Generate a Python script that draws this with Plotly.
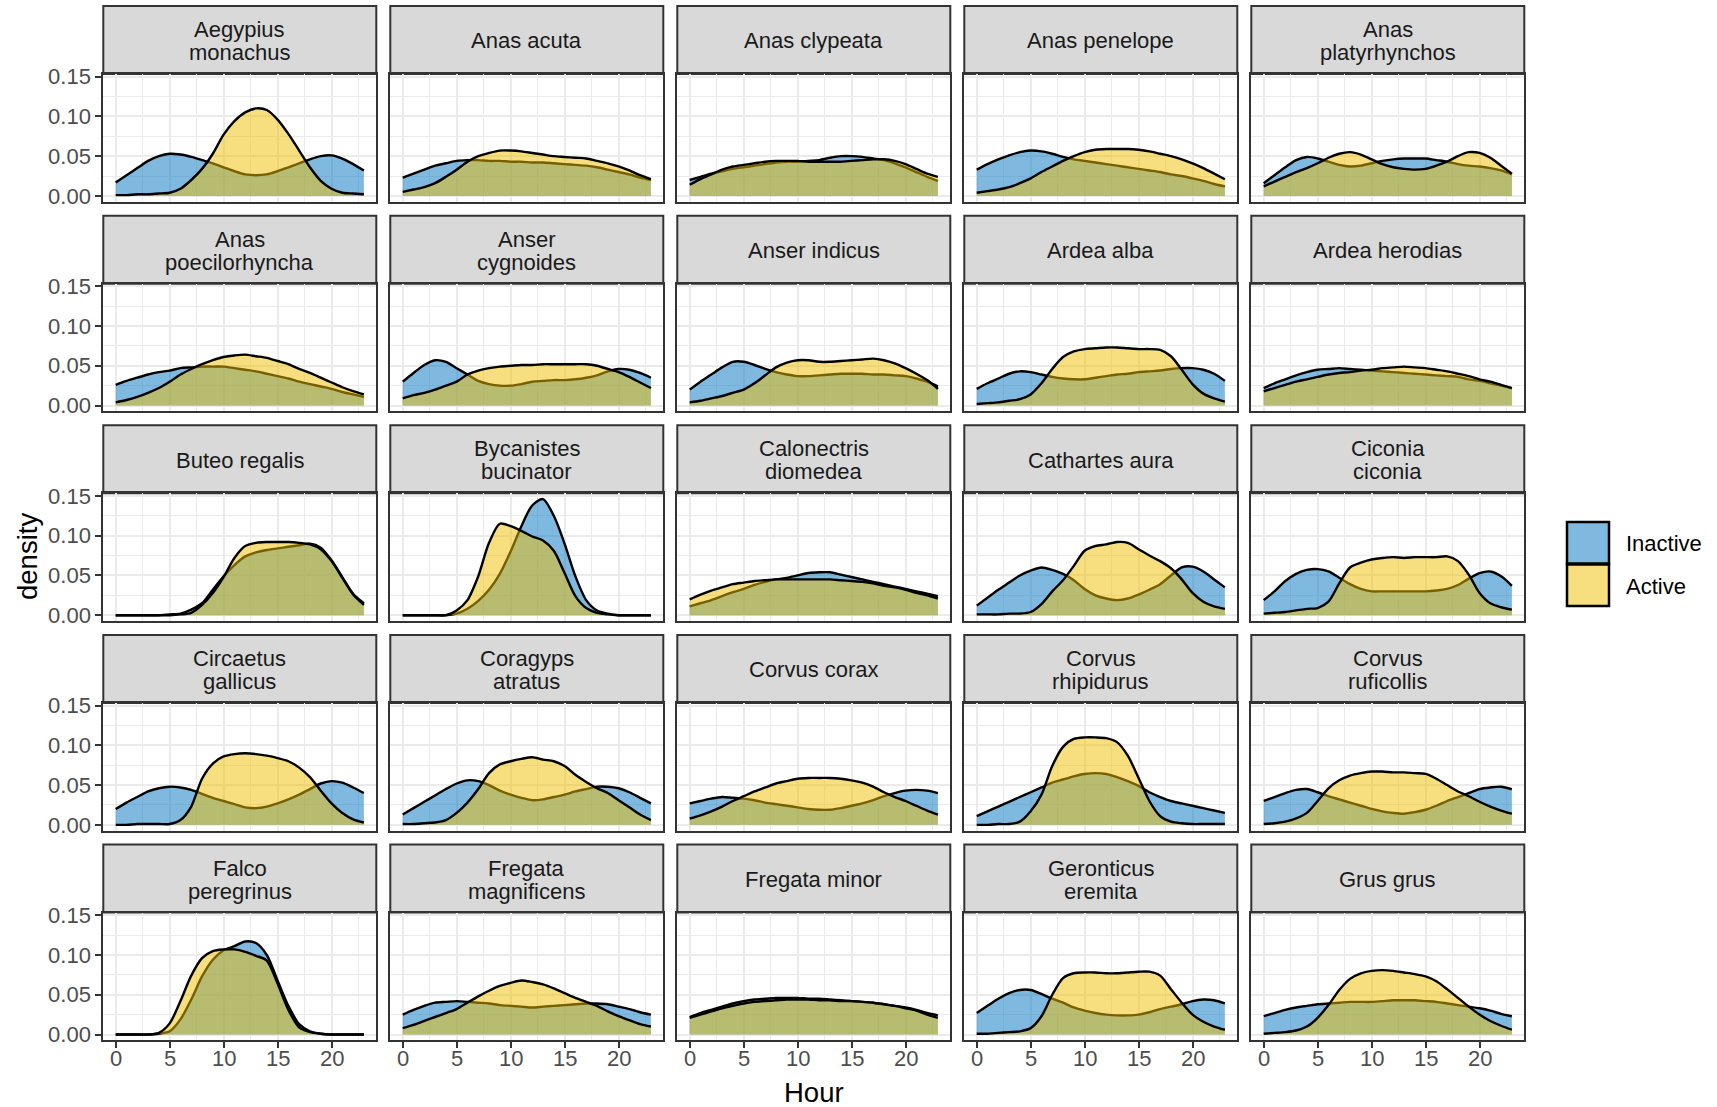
import plotly.graph_objects as go

W, H = 1717, 1107
hours = list(range(24))

strip_labels = [
    "Aegypius\nmonachus", "Anas acuta", "Anas clypeata", "Anas penelope", "Anas\nplatyrhynchos",
    "Anas\npoecilorhyncha", "Anser\ncygnoides", "Anser indicus", "Ardea alba", "Ardea herodias",
    "Buteo regalis", "Bycanistes\nbucinator", "Calonectris\ndiomedea", "Cathartes aura", "Ciconia\nciconia",
    "Circaetus\ngallicus", "Coragyps\natratus", "Corvus corax", "Corvus\nrhipidurus", "Corvus\nruficollis",
    "Falco\nperegrinus", "Fregata\nmagnificens", "Fregata minor", "Geronticus\neremita", "Grus grus",
]
series_names = ["Inactive", "Active"]
y_ticks = [0.00, 0.05, 0.10, 0.15]
x_ticks = [0, 5, 10, 15, 20]

aegypius_monachus_inactive = [.017,.026,.035,.044,.050,.053,.052,.049,.045,.041,.036,.031,.027,.026,.027,.031,.036,.041,.046,.050,.051,.047,.040,.032]
aegypius_monachus_active = [.001,.001,.002,.002,.003,.004,.009,.020,.034,.053,.077,.094,.105,.110,.108,.096,.078,.057,.036,.019,.009,.004,.003,.002]
anas_acuta_inactive = [.023,.028,.033,.038,.041,.044,.045,.045,.044,.044,.043,.043,.042,.042,.041,.040,.039,.038,.036,.033,.030,.027,.023,.020]
anas_acuta_active = [.005,.008,.011,.016,.024,.033,.043,.050,.054,.057,.057,.056,.054,.052,.050,.049,.048,.047,.044,.041,.037,.032,.026,.021]
anas_clypeata_inactive = [.020,.024,.028,.031,.034,.036,.038,.040,.042,.043,.043,.044,.045,.048,.050,.050,.049,.047,.045,.041,.036,.030,.024,.019]
anas_clypeata_active = [.014,.021,.027,.033,.037,.039,.041,.043,.044,.044,.044,.043,.043,.043,.043,.044,.045,.046,.046,.044,.040,.034,.028,.024]
anas_penelope_inactive = [.033,.040,.046,.051,.055,.057,.056,.053,.049,.046,.044,.042,.040,.038,.036,.034,.032,.030,.027,.025,.022,.019,.015,.012]
anas_penelope_active = [.004,.006,.008,.011,.016,.022,.030,.037,.044,.050,.055,.058,.059,.059,.059,.058,.056,.053,.050,.046,.041,.035,.028,.021]
anas_platyrhynchos_inactive = [.016,.026,.036,.045,.049,.047,.043,.039,.037,.038,.041,.044,.046,.047,.047,.047,.045,.043,.040,.038,.037,.035,.032,.027]
anas_platyrhynchos_active = [.012,.018,.024,.030,.035,.041,.048,.053,.055,.052,.046,.040,.036,.034,.033,.034,.038,.043,.050,.055,.054,.048,.038,.028]
anas_poecilorhyncha_inactive = [.026,.031,.035,.039,.042,.044,.047,.048,.049,.049,.049,.047,.045,.043,.040,.037,.034,.030,.027,.024,.021,.017,.014,.011]
anas_poecilorhyncha_active = [.004,.007,.011,.016,.022,.030,.039,.046,.052,.057,.061,.063,.064,.062,.060,.056,.052,.046,.041,.035,.029,.023,.018,.014]
anser_cygnoides_inactive = [.030,.041,.051,.057,.055,.047,.039,.031,.027,.025,.025,.027,.030,.031,.032,.032,.033,.035,.038,.043,.046,.045,.041,.035]
anser_cygnoides_active = [.009,.013,.016,.020,.025,.030,.039,.044,.047,.049,.050,.051,.051,.052,.052,.052,.052,.052,.050,.046,.042,.036,.029,.022]
anser_indicus_inactive = [.020,.030,.039,.048,.055,.055,.051,.046,.042,.039,.037,.037,.038,.039,.040,.040,.040,.039,.039,.038,.037,.034,.030,.024]
anser_indicus_active = [.004,.006,.009,.012,.016,.020,.028,.038,.048,.054,.057,.057,.055,.055,.056,.057,.058,.059,.057,.053,.047,.040,.032,.021]
ardea_alba_inactive = [.021,.028,.034,.040,.043,.042,.039,.036,.034,.033,.033,.035,.037,.039,.040,.042,.043,.044,.046,.047,.047,.045,.040,.031]
ardea_alba_active = [.002,.003,.004,.006,.008,.014,.028,.046,.061,.068,.071,.072,.073,.073,.072,.071,.071,.070,.062,.045,.027,.015,.009,.005]
ardea_herodias_inactive = [.022,.028,.033,.038,.042,.045,.046,.047,.046,.045,.044,.043,.042,.041,.040,.039,.038,.037,.036,.033,.031,.028,.025,.022]
ardea_herodias_active = [.018,.022,.026,.030,.033,.036,.039,.041,.042,.044,.045,.047,.048,.049,.048,.047,.045,.043,.040,.037,.033,.030,.026,.022]
buteo_regalis_inactive = [.000,.000,.000,.000,.000,.001,.002,.007,.015,.032,.049,.063,.074,.079,.082,.084,.086,.088,.090,.085,.069,.048,.027,.015]
buteo_regalis_active = [.000,.000,.000,.000,.000,.000,.001,.003,.013,.028,.048,.072,.087,.091,.092,.092,.092,.091,.089,.083,.068,.047,.026,.013]
bycanistes_bucinator_inactive = [.000,.000,.000,.000,.000,.002,.008,.018,.032,.052,.080,.112,.138,.146,.125,.090,.049,.019,.006,.002,.000,.000,.000,.000]
bycanistes_bucinator_active = [.000,.000,.000,.000,.000,.006,.019,.049,.091,.115,.112,.106,.099,.094,.081,.053,.024,.009,.003,.001,.000,.000,.000,.000]
calonectris_diomedea_inactive = [.011,.015,.019,.024,.029,.033,.038,.042,.045,.047,.050,.053,.054,.054,.051,.048,.045,.042,.039,.036,.033,.030,.027,.024]
calonectris_diomedea_active = [.020,.026,.031,.035,.039,.041,.043,.044,.045,.045,.045,.045,.045,.045,.044,.043,.042,.040,.037,.035,.032,.028,.025,.021]
cathartes_aura_inactive = [.012,.022,.032,.041,.050,.056,.060,.057,.052,.044,.033,.025,.021,.019,.021,.026,.032,.039,.050,.060,.061,.055,.045,.035]
cathartes_aura_active = [.001,.001,.001,.002,.002,.004,.014,.030,.044,.062,.081,.087,.089,.092,.091,.083,.075,.068,.059,.045,.028,.017,.011,.008]
ciconia_ciconia_inactive = [.019,.030,.043,.052,.057,.058,.055,.047,.039,.033,.030,.030,.030,.030,.030,.030,.031,.033,.038,.046,.053,.055,.049,.037]
ciconia_ciconia_active = [.002,.003,.004,.006,.008,.009,.017,.040,.060,.066,.070,.072,.073,.072,.073,.073,.073,.074,.068,.051,.028,.015,.010,.007]
circaetus_gallicus_inactive = [.020,.028,.035,.042,.046,.048,.047,.044,.039,.034,.030,.026,.022,.021,.023,.027,.032,.038,.045,.052,.055,.053,.047,.040]
circaetus_gallicus_active = [.000,.000,.001,.001,.001,.001,.006,.023,.058,.077,.086,.089,.090,.089,.087,.084,.080,.072,.060,.043,.027,.015,.007,.003]
coragyps_atratus_inactive = [.013,.021,.029,.037,.045,.052,.056,.055,.050,.043,.038,.034,.031,.032,.035,.038,.042,.045,.048,.048,.046,.041,.034,.027]
coragyps_atratus_active = [.001,.001,.002,.003,.006,.015,.028,.045,.065,.076,.080,.083,.085,.082,.080,.074,.063,.054,.046,.040,.031,.022,.013,.006]
corvus_corax_inactive = [.027,.030,.033,.035,.034,.033,.031,.028,.026,.024,.022,.020,.019,.019,.021,.024,.027,.031,.036,.040,.043,.044,.043,.040]
corvus_corax_active = [.008,.012,.017,.023,.030,.036,.042,.047,.052,.055,.058,.059,.059,.059,.058,.056,.053,.048,.041,.035,.030,.024,.018,.013]
corvus_rhipidurus_inactive = [.011,.017,.023,.029,.035,.041,.047,.053,.057,.061,.064,.065,.064,.060,.055,.049,.041,.035,.030,.027,.024,.021,.018,.015]
corvus_rhipidurus_active = [.000,.000,.001,.001,.004,.017,.038,.074,.098,.108,.110,.110,.109,.104,.087,.059,.030,.011,.004,.002,.001,.001,.001,.001]
corvus_ruficollis_inactive = [.030,.035,.040,.044,.045,.041,.036,.032,.028,.024,.020,.017,.015,.014,.016,.019,.024,.030,.035,.040,.045,.047,.048,.045]
corvus_ruficollis_active = [.001,.002,.004,.008,.015,.030,.046,.056,.062,.065,.067,.067,.066,.066,.065,.064,.058,.050,.042,.036,.029,.023,.018,.014]
falco_peregrinus_inactive = [.000,.000,.000,.000,.001,.004,.019,.044,.073,.094,.106,.111,.117,.115,.100,.068,.036,.013,.004,.001,.000,.000,.000,.000]
falco_peregrinus_active = [.000,.000,.000,.000,.002,.014,.042,.074,.096,.105,.107,.107,.104,.099,.093,.064,.031,.009,.003,.001,.000,.000,.000,.000]
fregata_magnificens_inactive = [.025,.031,.036,.040,.041,.042,.041,.040,.039,.037,.036,.035,.034,.035,.036,.037,.038,.039,.039,.038,.035,.032,.028,.025]
fregata_magnificens_active = [.008,.012,.017,.022,.027,.032,.040,.048,.055,.061,.065,.068,.066,.063,.058,.052,.046,.041,.036,.029,.023,.018,.013,.010]
fregata_minor_inactive = [.022,.027,.031,.035,.039,.042,.044,.045,.046,.046,.046,.045,.045,.044,.043,.042,.041,.040,.038,.036,.034,.031,.027,.024]
fregata_minor_active = [.021,.025,.029,.033,.036,.039,.041,.042,.043,.044,.044,.044,.043,.043,.042,.042,.041,.040,.038,.036,.033,.030,.025,.021]
geronticus_eremita_inactive = [.027,.036,.045,.052,.056,.056,.051,.045,.040,.034,.030,.027,.025,.024,.024,.025,.028,.032,.035,.038,.042,.044,.043,.039]
geronticus_eremita_active = [.001,.001,.002,.003,.004,.008,.023,.050,.071,.077,.078,.078,.077,.077,.078,.079,.079,.074,.057,.040,.025,.016,.010,.006]
grus_grus_inactive = [.023,.027,.031,.034,.036,.038,.039,.040,.041,.041,.041,.042,.043,.043,.043,.042,.041,.039,.037,.035,.033,.030,.026,.023]
grus_grus_active = [.001,.002,.003,.005,.010,.021,.037,.056,.070,.077,.080,.081,.080,.078,.076,.073,.067,.057,.046,.035,.025,.017,.011,.006]

inactive_series = [
    aegypius_monachus_inactive, anas_acuta_inactive, anas_clypeata_inactive, anas_penelope_inactive, anas_platyrhynchos_inactive,
    anas_poecilorhyncha_inactive, anser_cygnoides_inactive, anser_indicus_inactive, ardea_alba_inactive, ardea_herodias_inactive,
    buteo_regalis_inactive, bycanistes_bucinator_inactive, calonectris_diomedea_inactive, cathartes_aura_inactive, ciconia_ciconia_inactive,
    circaetus_gallicus_inactive, coragyps_atratus_inactive, corvus_corax_inactive, corvus_rhipidurus_inactive, corvus_ruficollis_inactive,
    falco_peregrinus_inactive, fregata_magnificens_inactive, fregata_minor_inactive, geronticus_eremita_inactive, grus_grus_inactive,
]
active_series = [
    aegypius_monachus_active, anas_acuta_active, anas_clypeata_active, anas_penelope_active, anas_platyrhynchos_active,
    anas_poecilorhyncha_active, anser_cygnoides_active, anser_indicus_active, ardea_alba_active, ardea_herodias_active,
    buteo_regalis_active, bycanistes_bucinator_active, calonectris_diomedea_active, cathartes_aura_active, ciconia_ciconia_active,
    circaetus_gallicus_active, coragyps_atratus_active, corvus_corax_active, corvus_rhipidurus_active, corvus_ruficollis_active,
    falco_peregrinus_active, fregata_magnificens_active, fregata_minor_active, geronticus_eremita_active, grus_grus_active,
]

FONT = "Liberation Sans, Arial, Helvetica, sans-serif"
FILL_IN = "rgba(0,115,194,0.5)"
FILL_AC = "rgba(239,192,0,0.5)"

def fx(x):
    return x / W

def fy(y):
    return 1 - y / H

COL_LEFT0, COL_STEP, PW = 103.3, 287.0, 273.0
STRIP_TOP0, PANEL_TOP0, PANEL_BOT0, ROW_STEP = 6.0, 74.0, 201.7, 209.65

fig = go.Figure()
layout = {}
shapes = []
annotations = []

for k in range(25):
    r, c = divmod(k, 5)
    s = "" if k == 0 else str(k + 1)
    left = COL_LEFT0 + COL_STEP * c
    right = left + PW
    stop = STRIP_TOP0 + ROW_STEP * r
    ptop = PANEL_TOP0 + ROW_STEP * r
    pbot = PANEL_BOT0 + ROW_STEP * r

    fig.add_trace(go.Scatter(
        x=hours, y=inactive_series[k], xaxis="x" + s, yaxis="y" + s,
        mode="lines", fill="tozeroy", fillcolor=FILL_IN,
        line=dict(color="black", width=2.4, shape="spline", smoothing=0.8),
        name=series_names[0], showlegend=False, hoverinfo="skip"))
    fig.add_trace(go.Scatter(
        x=hours, y=active_series[k], xaxis="x" + s, yaxis="y" + s,
        mode="lines", fill="tozeroy", fillcolor=FILL_AC,
        line=dict(color="black", width=2.4, shape="spline", smoothing=0.8),
        name=series_names[1], showlegend=False, hoverinfo="skip"))

    bottom_row = r == 4
    left_col = c == 0
    layout["xaxis" + s] = dict(
        domain=[fx(left), fx(right)], anchor="y" + s, range=[-1.15, 24.15],
        tickvals=x_ticks, showticklabels=False, automargin=False,
        ticks="outside" if bottom_row else "", ticklen=6, tickwidth=1.8, tickcolor="#333333",
        showgrid=True, gridcolor="#EBEBEB", gridwidth=2,
        minor=dict(tickvals=[2.5, 7.5, 12.5, 17.5, 22.5], showgrid=True, gridcolor="#EBEBEB", gridwidth=1.1, ticks=""),
        zeroline=False, showline=True, mirror=True, linecolor="#333333", linewidth=2,
        fixedrange=True)
    layout["yaxis" + s] = dict(
        domain=[fy(pbot), fy(ptop)], anchor="x" + s, range=[-0.0073, 0.1533],
        tickvals=y_ticks, ticktext=["%.2f" % v for v in y_ticks], showticklabels=left_col,
        automargin=False,
        ticks="outside" if left_col else "", ticklen=6, tickwidth=1.8, tickcolor="#333333",
        tickfont=dict(family=FONT, size=22, color="#4D4D4D"),
        showgrid=True, gridcolor="#EBEBEB", gridwidth=2,
        minor=dict(tickvals=[0.025, 0.075, 0.125], showgrid=True, gridcolor="#EBEBEB", gridwidth=1.1, ticks=""),
        zeroline=False, showline=True, mirror=True, linecolor="#333333", linewidth=2,
        fixedrange=True)

    if bottom_row:
        for t in x_ticks:
            annotations.append(dict(text=str(t), xref="x" + s, yref="paper", x=t, y=fy(pbot + 18.5),
                                    xanchor="center", yanchor="middle", showarrow=False,
                                    font=dict(family=FONT, size=22, color="#4D4D4D")))

    shapes.append(dict(type="rect", xref="paper", yref="paper",
                       x0=fx(left), x1=fx(right), y0=fy(ptop), y1=fy(stop),
                       fillcolor="#D9D9D9", line=dict(color="#333333", width=2), layer="below"))
    lines = strip_labels[k].split("\n")
    cy = (stop + ptop) / 2
    offs = [0] if len(lines) == 1 else [-11.5, 11.5]
    for ln, o in zip(lines, offs):
        annotations.append(dict(text=ln, xref="paper", yref="paper",
                                x=fx((left + right) / 2), y=fy(cy + o + 1),
                                xanchor="center", yanchor="middle", showarrow=False,
                                font=dict(family=FONT, size=22, color="#1A1A1A")))

# axis titles
annotations.append(dict(text="density", xref="paper", yref="paper", x=fx(27), y=fy(557),
                        textangle=-90, xanchor="center", yanchor="middle", showarrow=False,
                        font=dict(family=FONT, size=27.5, color="black")))
annotations.append(dict(text="Hour", xref="paper", yref="paper", x=fx(814), y=fy(1092),
                        xanchor="center", yanchor="middle", showarrow=False,
                        font=dict(family=FONT, size=27.5, color="black")))

# legend (drawn manually to mimic ggplot keys)
for i, (nm, col) in enumerate(zip(series_names, [FILL_IN, FILL_AC])):
    y0 = 522 + 42.5 * i
    shapes.append(dict(type="rect", xref="paper", yref="paper",
                       x0=fx(1567), x1=fx(1609), y0=fy(y0 + 41.5), y1=fy(y0),
                       fillcolor=col, line=dict(color="black", width=2.5)))
    annotations.append(dict(text=nm, xref="paper", yref="paper", x=fx(1624), y=fy(y0 + 21.5),
                            xanchor="left", yanchor="middle", showarrow=False,
                            font=dict(family=FONT, size=22, color="black")))

fig.update_layout(**layout)
fig.update_layout(
    width=W, height=H, autosize=False,
    margin=dict(l=0, r=0, t=0, b=0, pad=0, autoexpand=False),
    paper_bgcolor="white", plot_bgcolor="white",
    shapes=shapes, annotations=annotations, showlegend=False,
    font=dict(family=FONT),
)

fig.write_html("out.html", config={"displayModeBar": False},
               post_script="document.body.style.margin='0';document.body.style.overflow='hidden';")
